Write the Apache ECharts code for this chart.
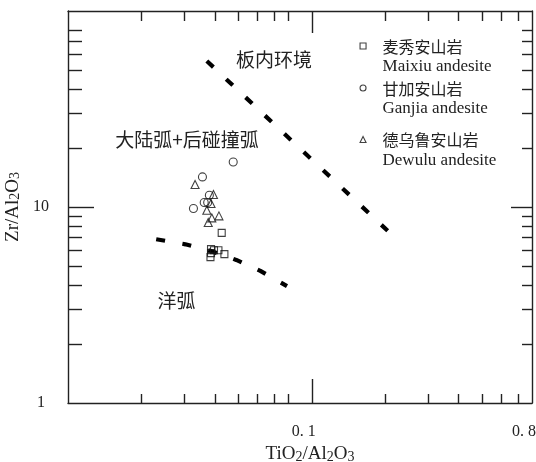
<!DOCTYPE html>
<html><head><meta charset="utf-8">
<script src="https://cdn.jsdelivr.net/npm/echarts@6/dist/echarts.min.js"></script>
<style>html,body{margin:0;padding:0;background:#fff}#c{width:536px;height:462px}</style>
</head><body><div id="c"></div>
<script>
// ---- data ----
const xMinorTicks = [0.02,0.03,0.04,0.05,0.06,0.07,0.08,0.2,0.3,0.4,0.5,0.6,0.7];
const xMajorTicks = [0.1];
const xLabelValues = [0.1, 0.8];
const xLabelTexts = ['0. 1', '0. 8'];
const yMinorTicks = [2,3,4,5,6,7,8,9,20,30,40,50,60,70,80];
const yMajorTicks = [10];
const yLabelValues = [1, 10];
const yLabelTexts = ['1', '10'];

const seriesNamesCn = ['麦秀安山岩','甘加安山岩','德乌鲁安山岩'];
const seriesNamesEn = ['Maixiu andesite','Ganjia andesite','Dewulu andesite'];
const seriesSymbols = ['rect','circle','triangle'];

const maixiu = [[0.0427,7.38],[0.0386,6.10],[0.0386,5.82],[0.0384,5.55],[0.0397,6.02],[0.0414,6.02],[0.0438,5.75]];
const ganjia = [[0.0476,16.98],[0.0356,14.24],[0.0380,11.48],[0.0362,10.54],[0.0374,10.54],[0.0327,9.83]];
const dewulu = [[0.0332,13.02],[0.0395,11.58],[0.0386,10.42],[0.0371,9.63],[0.0416,9.01],[0.0389,8.80],[0.0376,8.34]];

const withinPlateLine = [[0.0371,55.6],[0.2047,7.56]];
const oceanicArcLine = [[0.0230,6.85],[0.0303,6.45],[0.0386,5.97],[0.0490,5.37],[0.0615,4.72],[0.0791,3.95]];

const fieldLabels = ['板内环境','大陆弧+后碰撞弧','洋弧'];

// ---- chart ----
const chart = echarts.init(document.getElementById('c'), null, {renderer:'canvas', width:536, height:462});
const serif = '"Liberation Serif","Times New Roman",serif';
const cjk = '"Noto Sans CJK SC","Noto Sans CJK JP",sans-serif';
const INK = '#222';

function fmt(values, texts){
  return v => { for (let i=0;i<values.length;i++){ if (Math.abs(v-values[i]) <= 1e-6*values[i]) return texts[i]; } return ''; };
}
function logAxis(kind, pos, ticks, len, line, label, extra){
  const isX = kind === 'x';
  return Object.assign({
    type:'log', logBase:10, position:pos,
    min: isX ? 0.01 : 1, max: isX ? 0.8 : 100,
    axisLine:{show:line, onZero:false, lineStyle:{color:INK,width:1.4}},
    axisTick:{show:true, inside:true, length:len, customValues:ticks, lineStyle:{color:INK,width:1.4}},
    axisLabel: label || {show:false},
    splitLine:{show:false}, minorTick:{show:false}, minorSplitLine:{show:false},
    silent:true
  }, extra || {});
}

const nameRich = {
  n:{fontFamily:serif, fontSize:19, color:INK, verticalAlign:'bottom', lineHeight:22},
  s:{fontFamily:serif, fontSize:14, color:INK, verticalAlign:'bottom', lineHeight:20}
};

const xAxes = [
  logAxis('x','bottom', xMinorTicks, 9, true, {
    show:true, customValues:xLabelValues, formatter:fmt(xLabelValues,xLabelTexts),
    fontFamily:serif, fontSize:16, color:INK, margin:21, padding:[0,16,0,0]
  }, {
    name:'{n|TiO}{s|2}{n|/Al}{s|2}{n|O}{s|3}', nameLocation:'middle', nameGap:39,
    nameTextStyle:{rich:nameRich, padding:[0,0,0,20]}
  }),
  logAxis('x','bottom', xMajorTicks, 24, false),
  logAxis('x','top', xMinorTicks, 10, true),
  logAxis('x','top', xMajorTicks, 22, false)
];
const yAxes = [
  logAxis('y','left', yMinorTicks, 14, true, {
    show:true, customValues:yLabelValues, formatter:fmt(yLabelValues,yLabelTexts),
    fontFamily:serif, fontSize:16, color:INK, margin:27, align:'center'
  }, {
    name:'{n|Zr/Al}{s|2}{n|O}{s|3}', nameLocation:'middle', nameGap:43, nameRotate:90,
    nameTextStyle:{rich:nameRich}
  }),
  logAxis('y','left', yMajorTicks, 26, false),
  logAxis('y','right', yMinorTicks, 10, true),
  logAxis('y','right', yMajorTicks, 21, false)
];

const pointSets = [maixiu, ganjia, dewulu];
const symbolSizes = [7, 8, 8];
const scatterSeries = seriesNamesCn.map((n,i)=>({
  name:n, type:'scatter', xAxisIndex:0, yAxisIndex:0,
  data:pointSets[i], symbol:seriesSymbols[i], symbolSize:symbolSizes[i],
  itemStyle:{color:'rgba(0,0,0,0)', borderColor:'#111', borderWidth:1.1},
  emphasis:{disabled:true}, silent:true, z:5
}));
const dashStyle = {color:'#000', width:4.2, type:[9,17.6], cap:'butt'};
const lineSeries = [
  {name:'within-plate boundary', type:'line', data:withinPlateLine, symbol:'none', lineStyle:dashStyle, silent:true, z:3},
  {name:'oceanic arc boundary', type:'line', data:oceanicArcLine, symbol:'none', lineStyle:dashStyle, silent:true, z:3}
];

const legendTops = [38.5, 80.5, 132];
const legends = seriesNamesCn.map((n,i)=>({
  data:[n], left:359.5, top:legendTops[i], orient:'vertical', padding:0,
  itemWidth:6, itemHeight:6, selectedMode:false,
  itemStyle:{color:'rgba(0,0,0,0)', borderColor:'#111', borderWidth:1.1},
  formatter: name => '{cn|' + name + '}\n{en|' + seriesNamesEn[i] + '}',
  textStyle:{
    padding:[21,0,0,11.5],
    rich:{
      cn:{fontFamily:cjk, fontSize:16, color:INK, lineHeight:21},
      en:{fontFamily:serif, fontSize:17, color:INK, lineHeight:20}
    }
  }
}));

const fieldLabelPos = [[274,59.5],[187,140],[176.5,300.5]];
const graphics = fieldLabels.map((t,i)=>({
  type:'text', x:fieldLabelPos[i][0], y:fieldLabelPos[i][1], silent:true,
  style:{text:t, fontFamily:cjk, fontSize:19, fill:INK, textAlign:'center', textVerticalAlign:'middle'}
}));

chart.setOption({
  animation:false,
  backgroundColor:'#fff',
  grid:{left:68, right:4, top:11, bottom:59, containLabel:false, outerBoundsMode:'none'},
  xAxis:xAxes, yAxis:yAxes,
  legend:legends,
  series:lineSeries.concat(scatterSeries),
  graphic:graphics
});
</script></body></html>
